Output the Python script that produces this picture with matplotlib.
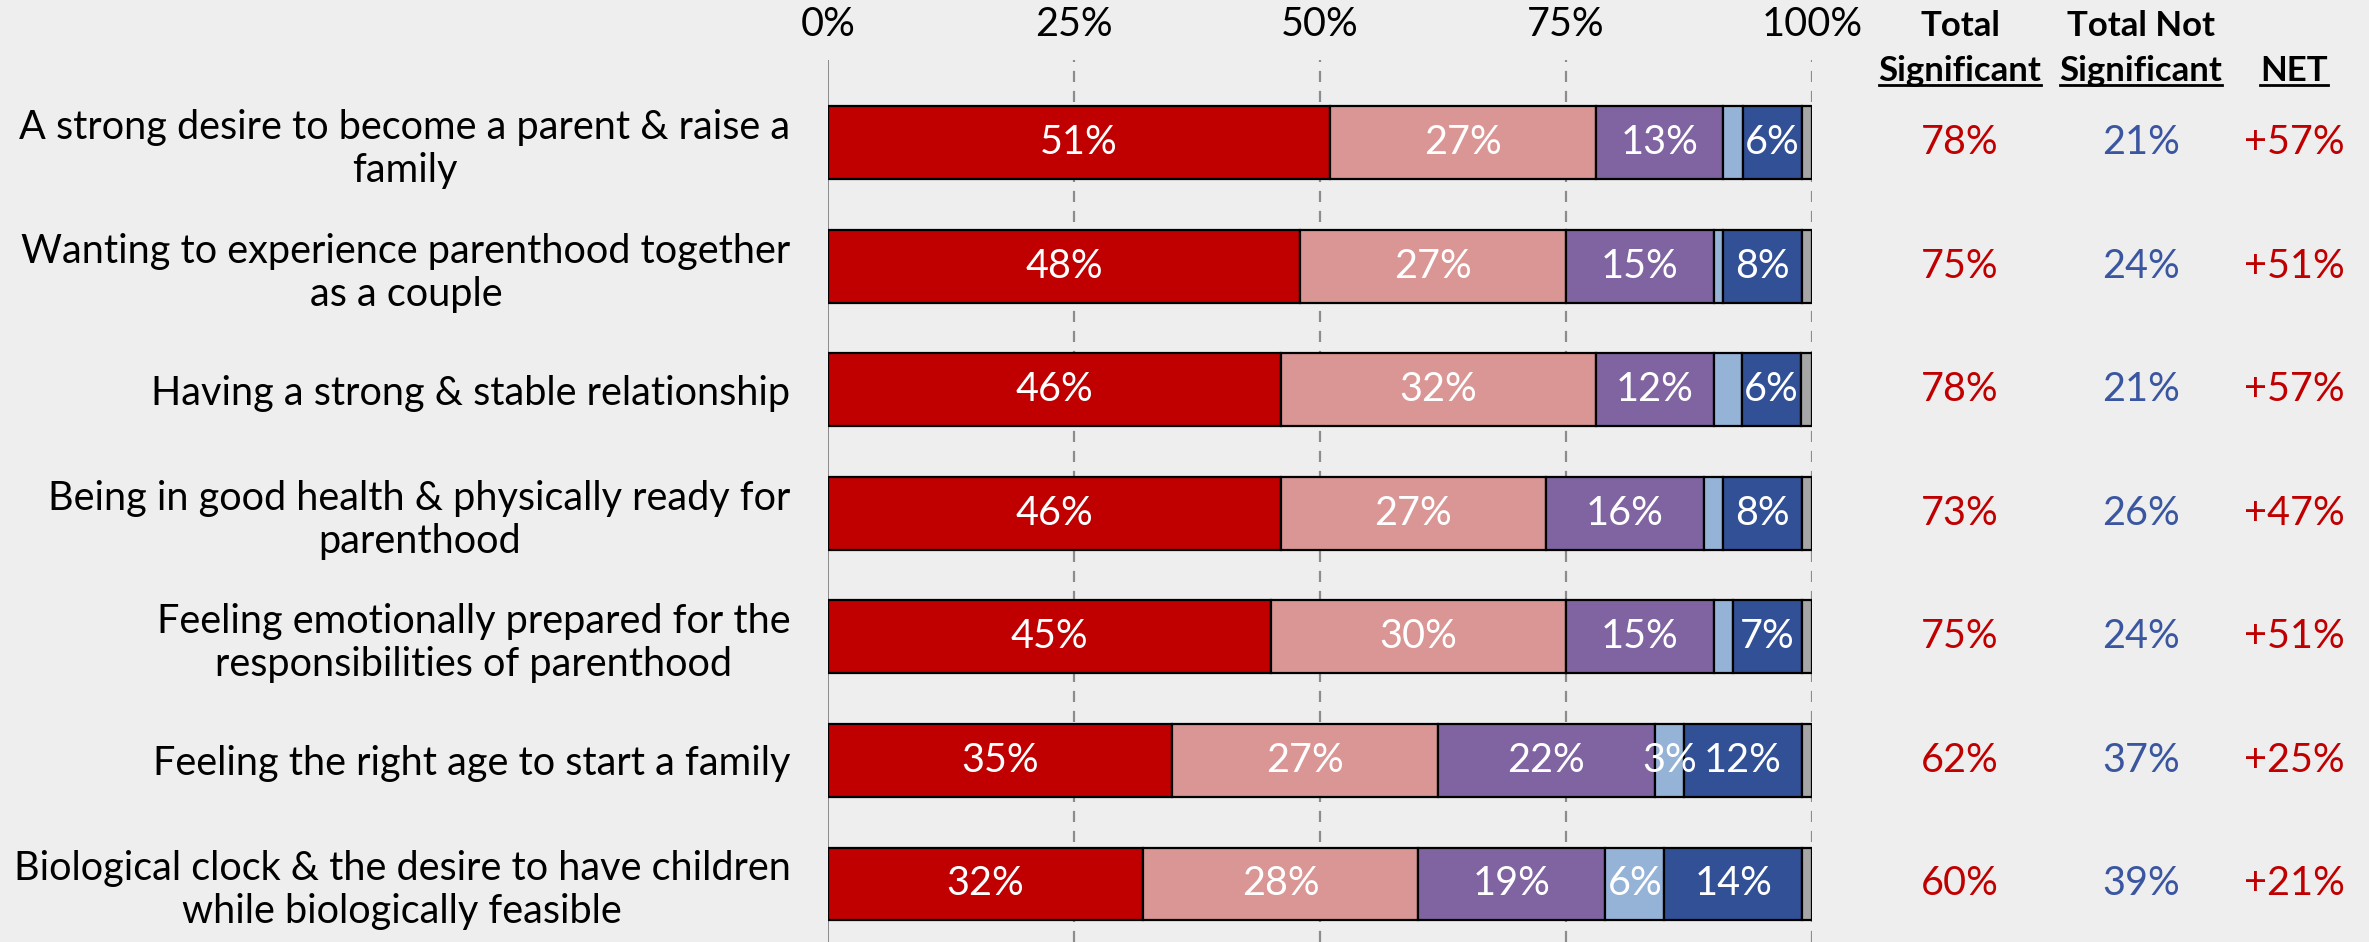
import matplotlib
matplotlib.use("Agg")
import matplotlib.pyplot as plt
import matplotlib.transforms as mtransforms
from matplotlib.lines import Line2D

plt.rcParams['font.family'] = ['Lato', 'DejaVu Sans']

categories = [
    "A strong desire to become a parent & raise a\nfamily",
    "Wanting to experience parenthood together\nas a couple",
    "Having a strong & stable relationship",
    "Being in good health & physically ready for\nparenthood",
    "Feeling emotionally prepared for the\nresponsibilities of parenthood",
    "Feeling the right age to start a family",
    "Biological clock & the desire to have children\nwhile biologically feasible",
]
very_sig = [51, 48, 46, 46, 45, 35, 32]
somewhat_sig = [27, 27, 32, 27, 30, 27, 28]
neutral = [13, 15, 12, 16, 15, 22, 19]
light_not = [2, 1, 2.9, 2, 2, 3, 6]
not_sig = [6, 8, 6, 8, 7, 12, 14]
other = [1, 1, 1.1, 1, 1, 1, 1]

total_sig = [78, 75, 78, 73, 75, 62, 60]
total_not_sig = [21, 24, 21, 26, 24, 37, 39]
net = [57, 51, 57, 47, 51, 25, 21]

xticks = [0, 25, 50, 75, 100]
xtick_labels = ["0%", "25%", "50%", "75%", "100%"]

series = [very_sig, somewhat_sig, neutral, light_not, not_sig, other]
colors = ["#C00000", "#DA9694", "#8064A2", "#95B3D7", "#325096", "#A6A6A6"]
label_min = [1, 1, 1, 3, 1, 101]

W, H = 2369, 942
BG = "#EEEEEE"
fig = plt.figure(figsize=(W / 100, H / 100), dpi=100, facecolor=BG)
ax = fig.add_axes([828 / W, 0, (1812 - 828) / W, 882 / H], facecolor=BG)

FS = 28.5
n = len(categories)
ys = list(range(n))

ax.set_xlim(0, 100)
ax.set_ylim(6.47, -0.67)

for xt in xticks:
    if xt == 0:
        ax.axvline(xt, color="#8C8C8C", lw=1.4, zorder=0)
    else:
        ax.axvline(xt, color="#8C8C8C", lw=1.6, ls=(0, (5, 4)), zorder=0)

lefts = [0] * n
for vals, col, lm in zip(series, colors, label_min):
    ax.barh(ys, vals, left=lefts, height=0.59, color=col, edgecolor="black",
            linewidth=1.6, zorder=2)
    for i, v in enumerate(vals):
        if v >= lm:
            ax.text(lefts[i] + v / 2, ys[i], f"{v:.0f}%", ha="center", va="center",
                    color="white", fontsize=FS, zorder=3)
    lefts = [l + v for l, v in zip(lefts, vals)]

ax.xaxis.tick_top()
ax.set_xticks(xticks)
ax.set_xticklabels(xtick_labels, fontsize=FS)
ax.tick_params(axis="x", length=0, pad=12)
ax.set_yticks(ys)
ax.set_yticklabels(categories, fontsize=FS, multialignment="center")
ax.tick_params(axis="y", length=0, pad=27)
for s in ax.spines.values():
    s.set_visible(False)

tr = mtransforms.blended_transform_factory(fig.transFigure, ax.transData)
col_x = [1960 / W, 2141 / W, 2294 / W]
for i in range(n):
    ax.text(col_x[0], ys[i], f"{total_sig[i]}%", transform=tr, ha="center",
            va="center", color="#C00000", fontsize=FS)
    ax.text(col_x[1], ys[i], f"{total_not_sig[i]}%", transform=tr, ha="center",
            va="center", color="#3A56A0", fontsize=FS)
    ax.text(col_x[2], ys[i], f"+{net[i]}%", transform=tr, ha="center",
            va="center", color="#C00000", fontsize=FS)

HFS = 25
y1 = 1 - 26 / H
y2 = 1 - 71 / H
headers = [("Total", "Significant"), ("Total Not", "Significant"), (None, "NET")]
under = []
for x, (l1, l2) in zip(col_x, headers):
    if l1:
        fig.text(x, y1, l1, ha="center", va="center", fontsize=HFS, fontweight="bold")
    t = fig.text(x, y2, l2, ha="center", va="center", fontsize=HFS, fontweight="bold")
    under.append(t)

fig.canvas.draw()
r = fig.canvas.get_renderer()
for t in under:
    bb = t.get_window_extent(r)
    yy = (bb.y0 + 2) / H
    fig.add_artist(Line2D([bb.x0 / W, bb.x1 / W], [yy, yy], transform=fig.transFigure,
                          color="black", lw=2))

fig.savefig("out.png", dpi=100, facecolor=BG)
